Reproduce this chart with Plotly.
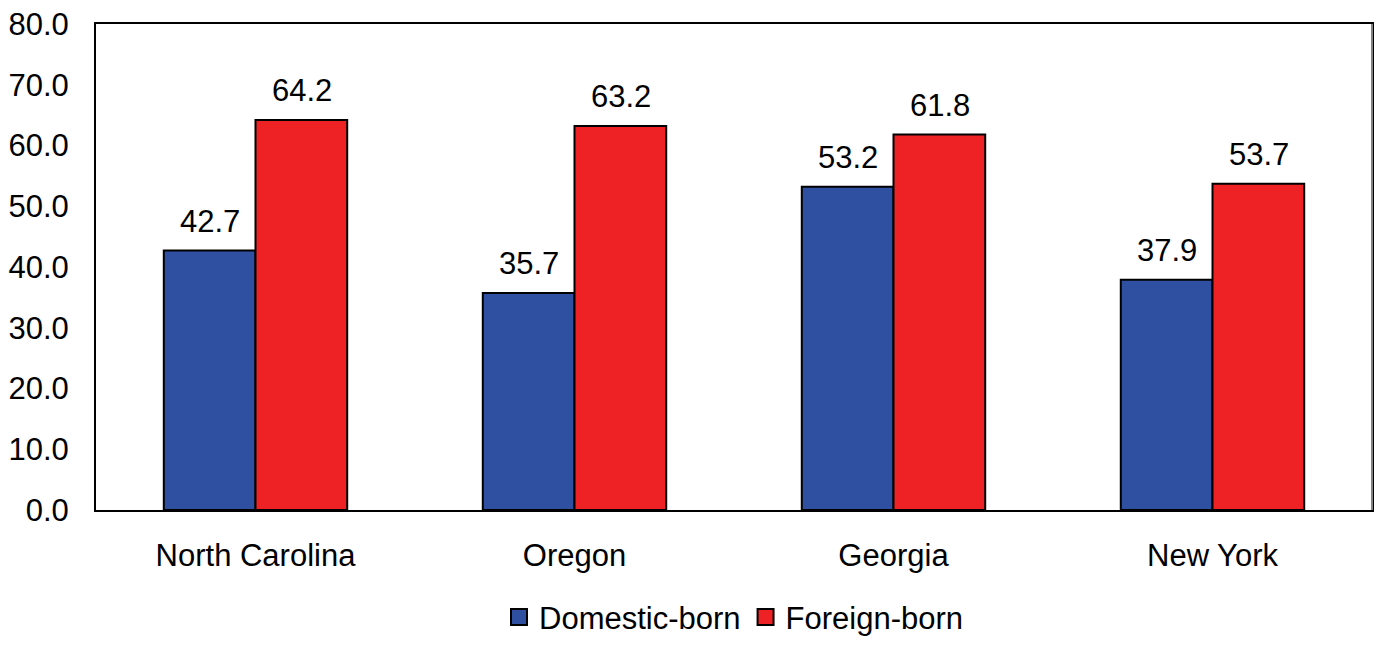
import plotly.graph_objects as go

categories = ["North Carolina", "Oregon", "Georgia", "New York"]
domestic = [42.7, 35.7, 53.2, 37.9]
foreign = [64.2, 63.2, 61.8, 53.7]
series_names = ["Domestic-born", "Foreign-born"]
colors = ["#2F50A0", "#EE2224"]

FONT = "Liberation Sans, Arial, sans-serif"
FS = 31

fig = go.Figure()
for name, vals, col in zip(series_names, [domestic, foreign], colors):
    fig.add_trace(go.Bar(
        x=categories, y=vals, name=name, showlegend=False,
        marker=dict(color=col, line=dict(color="black", width=2)),
    ))
    fig.add_trace(go.Scatter(
        x=[None], y=[None], mode="markers", name=name,
        marker=dict(symbol="square", size=20, color=col,
                    line=dict(color="black", width=2)),
    ))

# value labels above bars (positioned via the axes' scales)
for vals, shift in [(domestic, -46), (foreign, 46)]:
    for c, v in zip(categories, vals):
        fig.add_annotation(x=c, y=v, text=f"{v:.1f}", showarrow=False,
                           xref="x", yref="y", xshift=shift, yshift=10,
                           yanchor="bottom", font=dict(size=FS, color="black"))

W, H = 1366, 629
fig.update_layout(
    width=W, height=H,
    margin=dict(l=88, r=2, t=16, b=127),
    paper_bgcolor="white", plot_bgcolor="white",
    font=dict(family=FONT, size=FS, color="black"),
    barmode="group", bargap=0.425, bargroupgap=0,
    showlegend=True,
    legend=dict(orientation="h", xref="container", yref="container",
                x=(88 + (W - 90) / 2) / W, xanchor="center",
                y=0.074, yanchor="top",
                font=dict(size=FS), itemwidth=30, traceorder="normal"),
    xaxis=dict(showline=True, linecolor="black", linewidth=2, mirror=True,
               showgrid=False, ticks="", ticklabelstandoff=17, automargin=False),
    yaxis=dict(range=[0, 80], dtick=10, tickformat=".1f", showline=True,
               linecolor="black", linewidth=2, mirror=True, showgrid=False,
               ticks="", ticklabelstandoff=19, zeroline=False, automargin=False,
               ticklabeloverflow="allow"),
    shapes=[dict(type="line", xref="paper", yref="paper", x0=1, x1=1, y0=0, y1=1,
                 line=dict(color="#808080", width=2))],
)

fig.write_html("out.html")
